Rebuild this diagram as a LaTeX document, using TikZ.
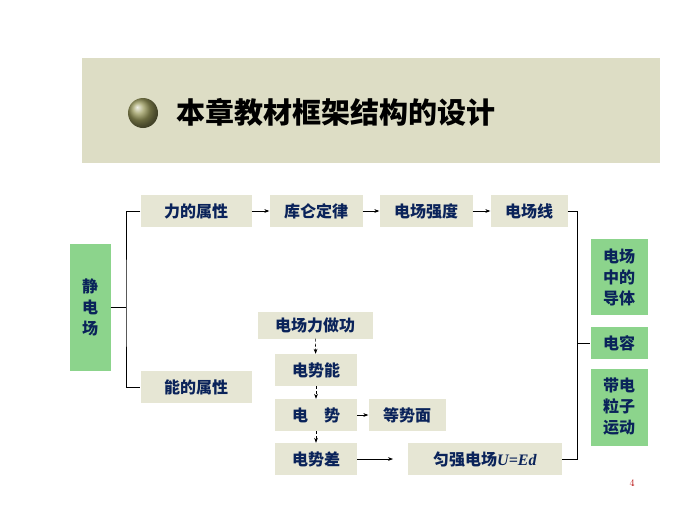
\documentclass[tikz,border=0pt]{standalone}
\usepackage{fontspec}
\newfontfamily\cjk{Noto Sans CJK SC}
\usetikzlibrary{arrows.meta}
\usetikzlibrary{positioning}
\definecolor{band}{RGB}{221,221,197}
\definecolor{beige}{RGB}{230,230,212}
\definecolor{leaf}{RGB}{140,212,140}
\definecolor{ink}{RGB}{10,35,90}
\tikzstyle{box} = [fill=beige, inner sep=0pt, text=ink, font=\cjk\bfseries\fontsize{16}{18}\selectfont]
\tikzstyle{gbox} = [box, fill=leaf, align=center, font=\cjk\bfseries\fontsize{16}{21}\selectfont]
\tikzstyle{line} = [draw, semithick]
\tikzstyle{arr} = [draw, semithick, -{Stealth[length=5pt]}]
\tikzstyle{darr} = [draw, semithick, densely dashed, -{Stealth[length=5pt]}]

\begin{document}
\begin{tikzpicture}[x=1pt, y=-1pt]
  \useasboundingbox (0,0) rectangle (700,525);
  \fill[band] (82,58) rectangle (660,163);
  \shade[ball color=olive!30!gray!80!white] (143,113) circle (15);
  \node[anchor=west, font=\cjk\bfseries\fontsize{29}{32}\selectfont] (title) at (173,112) {本章教材框架结构的设计};

  \node [gbox, minimum width=41, minimum height=127] (jdc) at (90,307) {静\\电\\场};
  \node [box, minimum width=111, minimum height=32] (lsx) at (196,211) {力的属性};
  \node [box, minimum width=93, minimum height=32] (kl) at (316,211) {库仑定律};
  \node [box, minimum width=93, minimum height=32] (qd) at (426,211) {电场强度};
  \node [box, minimum width=77, minimum height=32] (dcx) at (529,211) {电场线};
  \node [box, minimum width=111, minimum height=32] (nsx) at (196,387) {能的属性};

  \node [box, minimum width=115, minimum height=27] (zg) at (315,325) {电场力做功};
  \node [box, minimum width=82, minimum height=32] (sn) at (316,370) {电势能};
  \node [box, minimum width=82, minimum height=32] (ds) at (316,415) {电\quad 势};
  \node [box, minimum width=77, minimum height=32] (dsm) at (407,415) {等势面};
  \node [box, minimum width=82, minimum height=32] (sc) at (316,459) {电势差};
  \node [box, minimum width=154, minimum height=32] (yq) at (485,459) {匀强电场\textit{\bfseries\fontspec{Liberation Serif}U=Ed}};

  \node [gbox, minimum width=57, minimum height=76] (dt) at (619,277) {电场\\中的\\导体};
  \node [gbox, minimum width=57, minimum height=32] (dr) at (619,343) {电容};
  \node [gbox, minimum width=57, minimum height=77] (yd) at (619,407) {带电\\粒子\\运动};

  \path [line] (jdc.east) -- (126,307) (lsx.west) -| (126,307) |- (nsx.west);
  \path [line] (dcx.east) -- (577,211) |- (dr.west);
  \path [line] (yq.east) -| (577,343);

  \path [arr] (lsx) -- (kl);
  \path [arr] (kl) -- (qd);
  \path [arr] (qd) -- (dcx);
  \path [arr] (ds) -- (dsm);
  \path [arr] (sc.east) -- (393,459);
  \path [darr] (zg) -- (sn);
  \path [darr] (sn) -- (ds);
  \path [darr] (ds) -- (sc);

  \node[text=red!70!black, font=\fontsize{10}{11}\selectfont] (pg) at (632,483) {4};
\end{tikzpicture}
\end{document}
